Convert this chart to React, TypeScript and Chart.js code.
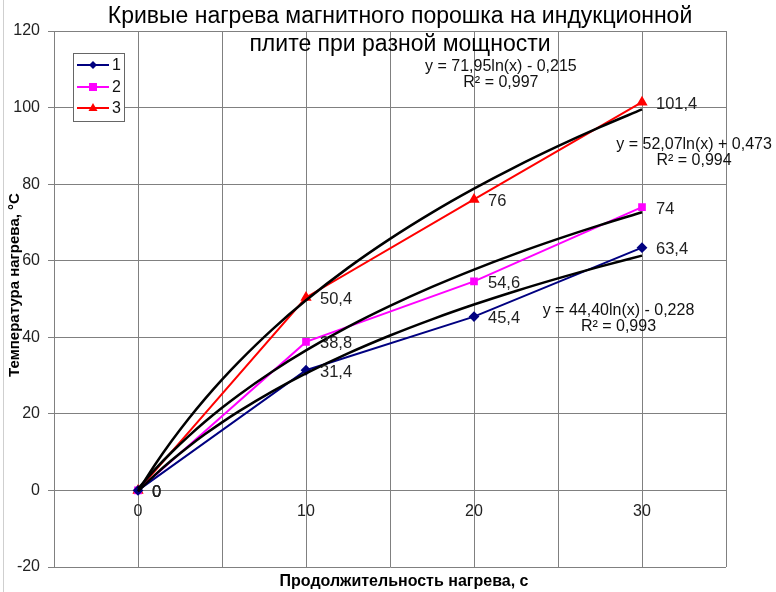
import React, { useEffect, useRef } from "react";
import { Chart, registerables } from "chart.js";

Chart.register(...registerables);

const xValues = [0, 10, 20, 30];
const series1 = [0, 31.4, 45.4, 63.4];
const series2 = [0, 38.8, 54.6, 74];
const series3 = [0, 50.4, 76, 101.4];
const seriesNames = ["1", "2", "3"];
const pointLabels1 = ["0", "31,4", "45,4", "63,4"];
const pointLabels2 = ["0", "38,8", "54,6", "74"];
const pointLabels3 = ["0", "50,4", "76", "101,4"];

// Trend curves
const trendX = [0, 1, 2, 3, 4, 5, 6, 8, 10, 12.5, 15, 17.5, 20, 22.5, 25, 27.5, 30];
const trend1 = [-0.23, 4.0, 7.87, 11.42, 14.71, 17.78, 20.64, 25.87, 30.55, 35.78, 40.46, 44.69, 48.55, 52.1, 55.39, 58.46, 61.32];
const trend2 = [0.47, 5.44, 9.97, 14.13, 17.99, 21.59, 24.95, 31.08, 36.57, 42.7, 48.18, 53.15, 57.68, 61.85, 65.7, 69.3, 72.66];
const trend3 = [-0.22, 6.64, 12.9, 18.66, 23.99, 28.96, 33.6, 42.08, 49.66, 58.13, 65.71, 72.57, 78.83, 84.59, 89.92, 94.89, 99.53];

const equations = [
  { eq: "y = 71,95ln(x) - 0,215", r2: "R² = 0,997", x: 21.6, y: 110.6 },
  { eq: "y = 52,07ln(x) + 0,473", r2: "R² = 0,994", x: 33.1, y: 90.2 },
  { eq: "y = 44,40ln(x) - 0,228", r2: "R² = 0,993", x: 28.6, y: 47.0 },
];

const titleLines = ["Кривые нагрева магнитного порошка на индукционной", "плите при разной мощности"];
const xTitle = "Продолжительность нагрева, с";
const yTitle = "Температура нагрева, °C";

const colors = ["#000080", "#FF00FF", "#FF0000"];
const FONT = "'Liberation Sans', Arial, sans-serif";

function drawMarker(ctx: CanvasRenderingContext2D, kind: number, x: number, y: number, color: string) {
  ctx.save();
  ctx.fillStyle = color;
  ctx.beginPath();
  if (kind === 0) {
    ctx.moveTo(x, y - 4);
    ctx.lineTo(x + 4, y);
    ctx.lineTo(x, y + 4);
    ctx.lineTo(x - 4, y);
  } else if (kind === 1) {
    ctx.rect(x - 4, y - 4, 8, 8);
  } else {
    ctx.moveTo(x, y - 5);
    ctx.lineTo(x + 4.5, y + 3);
    ctx.lineTo(x - 4.5, y + 3);
  }
  ctx.closePath();
  ctx.fill();
  ctx.restore();
}

const overlayPlugin = {
  id: "overlay",
  afterDatasetsDraw(chart: any) {
    const ctx: CanvasRenderingContext2D = chart.ctx;
    const xs = chart.scales.x;
    const ys = chart.scales.y;
    ctx.save();
    // point labels
    ctx.font = `16.5px ${FONT}`;
    ctx.fillStyle = "#222";
    ctx.textAlign = "left";
    ctx.textBaseline = "middle";
    const sets = [
      [series1, pointLabels1],
      [series2, pointLabels2],
      [series3, pointLabels3],
    ] as const;
    sets.forEach(([vals, labels]) => {
      vals.forEach((v, i) => {
        const px = xs.getPixelForValue(xValues[i]);
        const py = ys.getPixelForValue(v);
        ctx.fillText(labels[i], px + 14, py + 2);
      });
    });
    // equations
    ctx.font = `16px ${FONT}`;
    ctx.textAlign = "center";
    ctx.fillStyle = "#111";
    equations.forEach((e) => {
      const px = xs.getPixelForValue(e.x);
      const py = ys.getPixelForValue(e.y);
      ctx.fillText(e.eq, px, py);
      ctx.fillText(e.r2, px, py + 16);
    });
    // legend
    const lx = 73, ly = 53, lw = 51, lh = 68;
    ctx.fillStyle = "#fff";
    ctx.fillRect(lx, ly, lw, lh);
    ctx.strokeStyle = "#666";
    ctx.lineWidth = 1;
    ctx.strokeRect(lx + 0.5, ly + 0.5, lw, lh);
    const rows = [65, 87, 108];
    ctx.font = `16px ${FONT}`;
    ctx.textAlign = "left";
    ctx.textBaseline = "middle";
    seriesNames.forEach((n, i) => {
      const y = rows[i];
      ctx.strokeStyle = colors[i];
      ctx.lineWidth = 2;
      ctx.beginPath();
      ctx.moveTo(77, y);
      ctx.lineTo(109, y);
      ctx.stroke();
      drawMarker(ctx, i, 93, y, colors[i]);
      ctx.fillStyle = "#111";
      ctx.fillText(n, 112, y + 1);
    });
    // title
    ctx.fillStyle = "#000";
    ctx.font = `23px ${FONT}`;
    ctx.textAlign = "center";
    ctx.textBaseline = "middle";
    ctx.fillText(titleLines[0], 400, 17);
    ctx.fillText(titleLines[1], 400, 45);
    // axis titles
    ctx.font = `bold 16px ${FONT}`;
    ctx.fillText(xTitle, 404, 582);
    ctx.font = `bold 15px ${FONT}`;
    ctx.save();
    ctx.translate(15, 285);
    ctx.rotate(-Math.PI / 2);
    ctx.fillText(yTitle, 0, 0);
    ctx.restore();
    // frame line
    ctx.strokeStyle = "#cfcfcf";
    ctx.lineWidth = 1;
    ctx.beginPath();
    ctx.moveTo(3.5, 0);
    ctx.lineTo(3.5, 592);
    ctx.stroke();
    ctx.restore();
  },
};

export default function App() {
  const ref = useRef<HTMLCanvasElement>(null);
  useEffect(() => {
    if (!ref.current) return;
    const mk = (vals: number[]) => xValues.map((x, i) => ({ x, y: vals[i] }));
    const mkT = (vals: number[]) => trendX.map((x, i) => ({ x, y: vals[i] }));
    const trendStyle = {
      borderColor: "#000",
      borderWidth: 2.5,
      pointRadius: 0,
      showLine: true,
      fill: false,
      tension: 0.4,
      cubicInterpolationMode: "monotone" as const,
      order: 0,
    };
    const chart = new Chart(ref.current, {
      type: "scatter",
      data: {
        datasets: [
          { ...trendStyle, label: "t1", data: mkT(trend1) },
          { ...trendStyle, label: "t2", data: mkT(trend2) },
          { ...trendStyle, label: "t3", data: mkT(trend3) },
          {
            label: seriesNames[0], data: mk(series1), showLine: true, borderColor: colors[0], backgroundColor: colors[0],
            borderWidth: 2, pointStyle: "rectRot", pointRadius: 4, order: 1,
          },
          {
            label: seriesNames[1], data: mk(series2), showLine: true, borderColor: colors[1], backgroundColor: colors[1],
            borderWidth: 2, pointStyle: "rect", pointRadius: 4, order: 1,
          },
          {
            label: seriesNames[2], data: mk(series3), showLine: true, borderColor: colors[2], backgroundColor: colors[2],
            borderWidth: 2, pointStyle: "triangle", pointRadius: 4.5, order: 1,
          },
        ],
      },
      options: {
        animation: false,
        responsive: true,
        maintainAspectRatio: false,
        layout: { padding: { left: 0, top: 31, right: 50, bottom: 25 } },
        plugins: { legend: { display: false }, tooltip: { enabled: false }, title: { display: false } },
        scales: {
          x: {
            type: "linear",
            min: -5,
            max: 35,
            position: { y: 0 } as any,
            ticks: {
              stepSize: 5,
              color: "#222",
              font: { family: FONT, size: 16 },
              padding: 8,
              maxRotation: 0,
              autoSkip: false,
              callback: (v: any) => (Number(v) % 10 === 0 ? String(v) : ""),
            },
            grid: { color: "#808080", lineWidth: 1, tickLength: 4 },
            border: { display: true, color: "#808080" },
          },
          y: {
            type: "linear",
            min: -20,
            max: 120,
            ticks: {
              stepSize: 20,
              color: "#222",
              font: { family: FONT, size: 16 },
              padding: 8,
            },
            grid: { color: "#808080", lineWidth: 1, tickLength: 6 },
            border: { display: true, color: "#808080" },
            afterFit: (s: any) => {
              s.width = 54;
            },
          },
        },
      },
      plugins: [overlayPlugin],
    });
    return () => chart.destroy();
  }, []);
  return (
    <div style={{ position: "absolute", left: 0, top: 0, width: 776, height: 592, background: "#fff" }}>
      <canvas ref={ref} />
    </div>
  );
}
